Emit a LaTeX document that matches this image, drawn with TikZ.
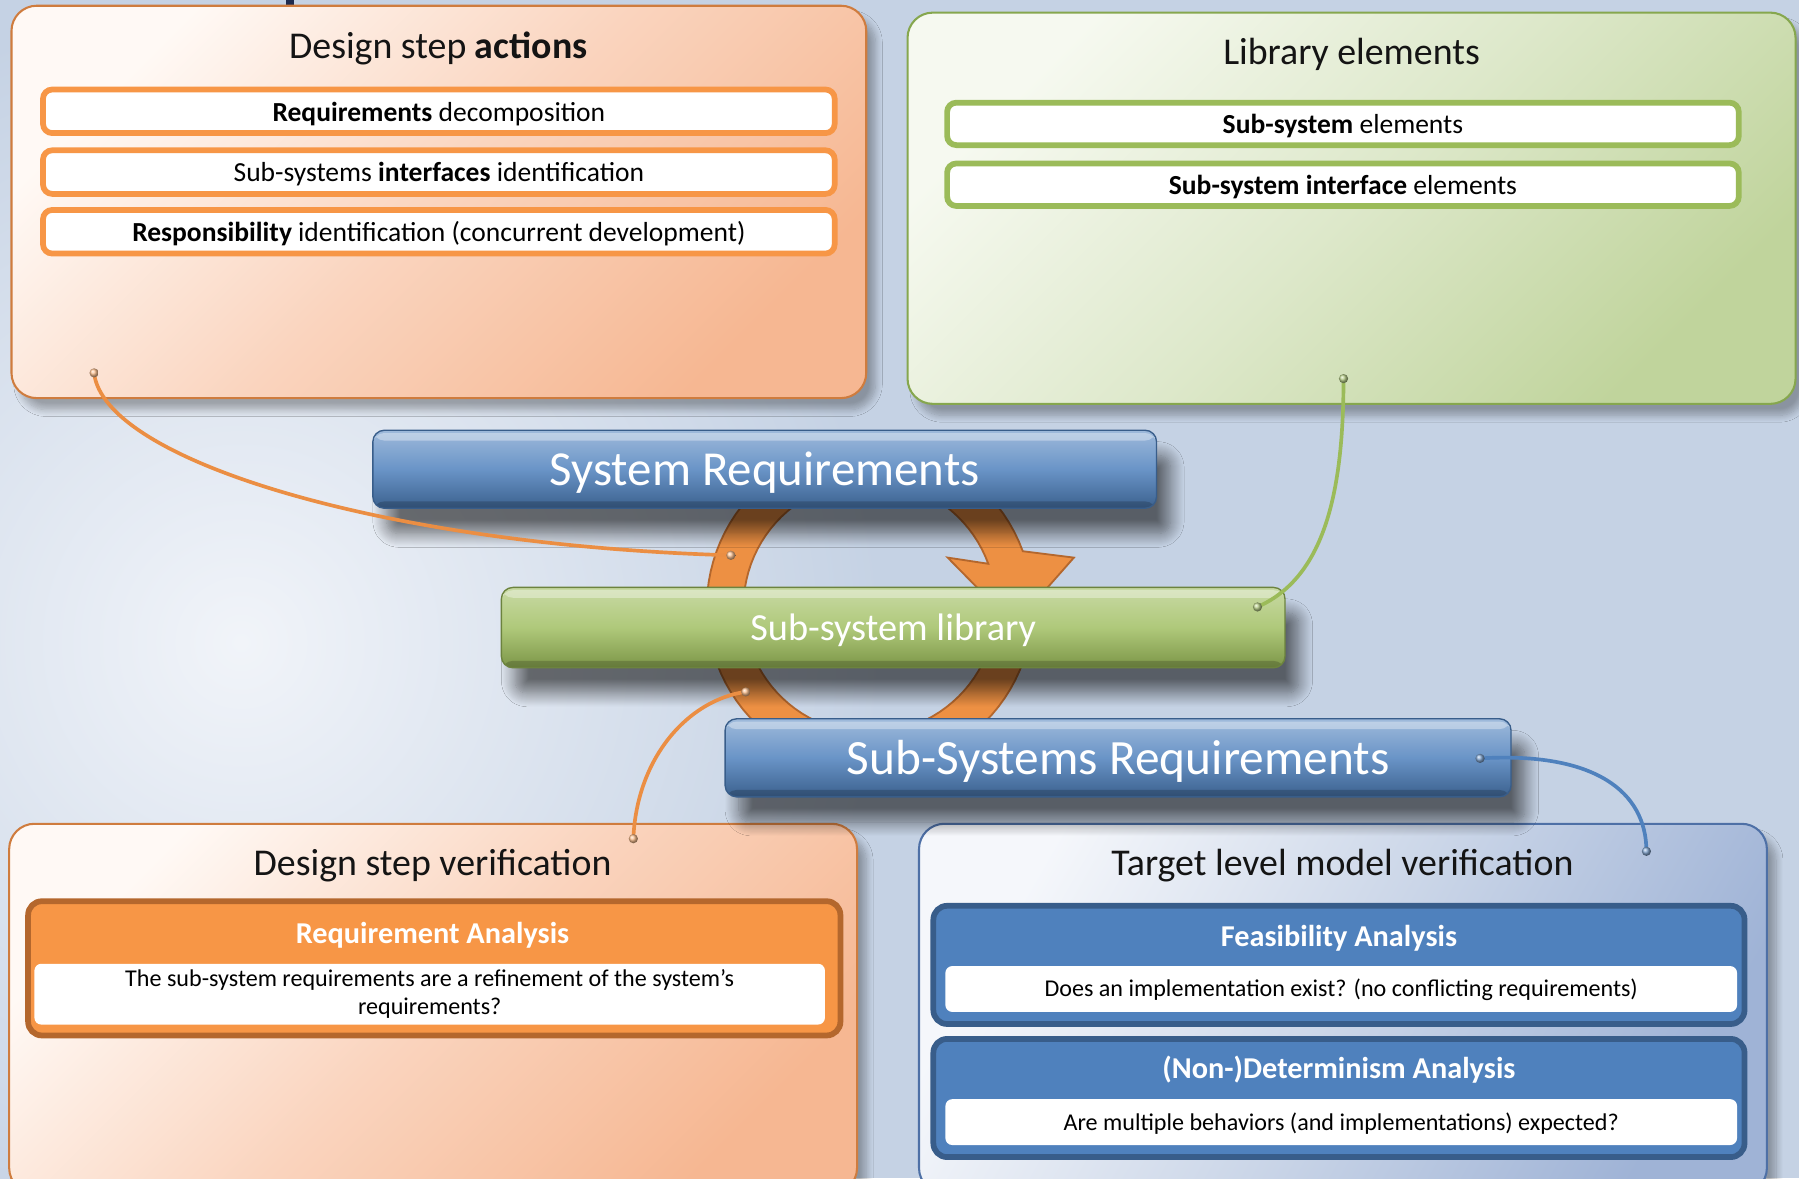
\documentclass[tikz,border=0pt]{standalone}
\usepackage{fontspec}
\setmainfont{Carlito}
\usetikzlibrary{calc,shadows.blur}

\definecolor{bgbase}{HTML}{C5D2E4}
\definecolor{bglight}{HTML}{F1F4F9}
\definecolor{peachA}{HTML}{FFF9F5}
\definecolor{peachB}{HTML}{FAD4BE}
\definecolor{peachC}{HTML}{F6B792}
\definecolor{peachline}{HTML}{CF7C3E}
\definecolor{orng}{HTML}{F79646}
\definecolor{orngdark}{HTML}{B4672D}
\definecolor{greenA}{HTML}{F6F9F0}
\definecolor{greenB}{HTML}{DDE8CA}
\definecolor{greenC}{HTML}{C0D49C}
\definecolor{greenline}{HTML}{86A74E}
\definecolor{grn}{HTML}{9BBB59}
\definecolor{blueA}{HTML}{F5F7FB}
\definecolor{blueB}{HTML}{CBD6E8}
\definecolor{blueC}{HTML}{9FB3D6}
\definecolor{blueline}{HTML}{4E70A6}
\definecolor{blu}{HTML}{4F81BD}
\definecolor{bludark}{HTML}{385D8A}
\definecolor{navy}{HTML}{1E2B4F}

\tikzset{
  bigpanel/.style={rounded corners=11pt, line width=0.9pt,
    blur shadow={shadow xshift=4pt, shadow yshift=-5pt, shadow blur radius=3pt,
      shadow blur steps=10, shadow opacity=30}},
  paneltitle/.style={font=\fontsize{16.5}{20}\selectfont, text=black!92, text height=14.5pt, text depth=3.5pt, inner sep=0pt},
  itembox/.style={line width=2.5pt, fill=white, rounded corners=4pt, inner sep=0pt,
    minimum width=345pt, font=\fontsize{12}{14}\selectfont, text height=11pt, text depth=2.5pt},
  bar/.style={rounded corners=5pt, line width=0.6pt, text=white, inner sep=0pt,
    minimum width=341.5pt, minimum height=34pt, text height=19pt, text depth=4.5pt,
    blur shadow={shadow xshift=6pt, shadow yshift=-11pt, shadow blur radius=6pt,
      shadow blur steps=14, shadow opacity=55},
    path picture={
      \fill[white, opacity=0.35] ([yshift=-1.2pt]path picture bounding box.north west)
        rectangle ([yshift=-4.5pt]path picture bounding box.north east);
      \fill[black, opacity=0.18] ([yshift=3pt]path picture bounding box.south west)
        rectangle (path picture bounding box.south east);}},
  subpanel/.style={line width=2.5pt, rounded corners=6pt, inner sep=0pt},
  subhead/.style={font=\bfseries\fontsize{13.2}{16}\selectfont, text=white, text height=12pt, text depth=3pt, inner sep=0pt},
  whitebox/.style={fill=white, rounded corners=3pt, inner sep=0pt, font=\fontsize{10.5}{12}\selectfont},
  linkO/.style={draw=orng!95!black, line width=1.6pt},
  linkG/.style={draw=grn, line width=1.6pt},
  linkB/.style={draw=blu, line width=1.6pt},
  knob/.style={circle, inner sep=0pt, minimum size=4pt},
}

\begin{document}
\begin{tikzpicture}[x=0.5pt, y=-0.5pt]
\useasboundingbox (0,0) rectangle (1568,1027);
\begin{scope}
\clip (0,0) rectangle (1568,1027);

% backdrop
\fill[bgbase] (0,0) rectangle (1568,1027);
\shade[inner color=bglight, outer color=bgbase] (210,560) circle[radius=560];
\fill[navy] (249,0) rectangle (256,5);

% ---- design step actions ----
\node[bigpanel, draw=peachline, top color=peachA, bottom color=peachC, middle color=peachB,
  shading angle=45, minimum width=372.5pt, minimum height=171pt] (actions) at (382.5,176) {};
\node[paneltitle] (actionsT) at (382,40) {Design step \textbf{actions}};
\node[itembox, draw=orng, minimum height=19pt] (act1) at (382.5,97) {\textbf{Requirements} decomposition};
\node[itembox, draw=orng, minimum height=19pt] (act2) at (382.5,150) {Sub-systems \textbf{interfaces} identification};
\node[itembox, draw=orng, minimum height=19pt] (act3) at (382.5,202) {\textbf{Responsibility} identification (concurrent development)};

% ---- library elements ----
\node[bigpanel, draw=greenline, top color=greenA, bottom color=greenC, middle color=greenB,
  shading angle=45, minimum width=387pt, minimum height=170.5pt] (lib) at (1178,181.5) {};
\node[paneltitle] (libT) at (1178,45) {Library elements};
\node[itembox, draw=grn, minimum height=18.5pt] (lib1) at (1170.5,108) {\textbf{Sub-system} elements};
\node[itembox, draw=grn, minimum height=18.5pt] (lib2) at (1170.5,161) {\textbf{Sub-system interface} elements};

% ---- design step verification ----
\node[bigpanel, draw=peachline, top color=peachA, bottom color=peachC, middle color=peachB,
  shading angle=45, minimum width=369.5pt, minimum height=161pt] (dsv) at (377.5,879) {};
\node[paneltitle] (dsvT) at (377,752) {Design step verification};
\node[subpanel, draw=orngdark, fill=orng, minimum width=354pt, minimum height=58.5pt] (reqan) at (378.5,844) {};
\node[subhead] (reqanT) at (377,813) {Requirement Analysis};
\node[whitebox, minimum width=344.5pt, minimum height=26.5pt, align=center] (reqanB) at (374.5,866.5)
  {The sub-system requirements are a refinement of the system’s\\requirements?};

% ---- target level model verification ----
\node[bigpanel, draw=blueline, top color=blueA, bottom color=blueC, middle color=blueB,
  shading angle=60, minimum width=369.5pt, minimum height=161pt] (tlv) at (1170.5,879) {};
\node[paneltitle] (tlvT) at (1170,752) {Target level model verification};
\node[subpanel, draw=bludark, fill=blu, minimum width=353.5pt, minimum height=51.5pt] (feas) at (1167,841) {};
\node[subhead] (feasT) at (1167,816) {Feasibility Analysis};
\node[whitebox, minimum width=345pt, minimum height=20pt, text height=9.2pt, text depth=2.3pt] (feasB) at (1169,862)
  {Does an implementation exist? (no conflicting requirements)};
\node[subpanel, draw=bludark, fill=blu, minimum width=353.5pt, minimum height=51.5pt] (ndet) at (1167,957) {};
\node[subhead] (ndetT) at (1167,931) {(Non-)Determinism Analysis};
\node[whitebox, minimum width=345pt, minimum height=20pt, text height=9.2pt, text depth=2.3pt] (ndetB) at (1169,978)
  {Are multiple behaviors (and implementations) expected?};

% ---- circular arrow ----
\path[draw=orngdark, line width=0.8pt, fill=orng!96!black]
  plot[domain=12:340, samples=90] ({758+142*cos(\x)},{529+142*sin(\x)})
  -- (936,486) -- (884,545) -- (826,486)
  -- plot[domain=340:12, samples=90] ({758+110*cos(\x)},{529+110*sin(\x)})
  -- cycle;

% ---- process bars ----
\node[bar, draw=bludark, top color=blu!55!white, bottom color=blu!75!black, middle color=blu!85!white,
  font=\fontsize{21.3}{24}\selectfont] (sysreq) at (666.5,409) {System Requirements};
\node[bar, draw=grn!70!black, top color=grn!55!white, bottom color=grn!80!black, middle color=grn!80!white,
  minimum height=35pt, font=\fontsize{16.7}{20}\selectfont, text height=15pt, text depth=3.5pt] (sublib) at (778.5,547) {Sub-system library};
\node[bar, draw=bludark, top color=blu!55!white, bottom color=blu!75!black, middle color=blu!85!white,
  minimum width=342.5pt, font=\fontsize{21.5}{24}\selectfont] (subreq) at (974.5,660.5) {Sub-Systems Requirements};

% ---- connectors ----
\coordinate (cA) at (82,325);
\coordinate (cR1) at (637,484);
\coordinate (cB) at (1171,330);
\coordinate (cL) at (1096,529);
\coordinate (cR2) at (650,603);
\coordinate (cC) at (552,731);
\coordinate (cS) at (1290,661);
\coordinate (cD) at (1435,742);

\draw[linkO] (cA) .. controls (90,400) and (330,475) .. (cR1);
\draw[linkG] (cB) .. controls (1171,440) and (1150,505) .. (cL);
\draw[linkO] (cR2) .. controls (600,610) and (555,660) .. (cC);
\draw[linkB] (cS) .. controls (1390,655) and (1435,690) .. (cD);

\node[knob, ball color=orng!60!white] (kA) at (cA) {};
\node[knob, ball color=orng!60!white] (kR1) at (cR1) {};
\node[knob, ball color=grn!70!white] (kB) at (cB) {};
\node[knob, ball color=grn!70!white] (kL) at (cL) {};
\node[knob, ball color=orng!60!white] (kR2) at (cR2) {};
\node[knob, ball color=orng!60!white] (kC) at (cC) {};
\node[knob, ball color=blu!70!white] (kS) at (cS) {};
\node[knob, ball color=blu!70!white] (kD) at (cD) {};
\end{scope}
\end{tikzpicture}
\end{document}
